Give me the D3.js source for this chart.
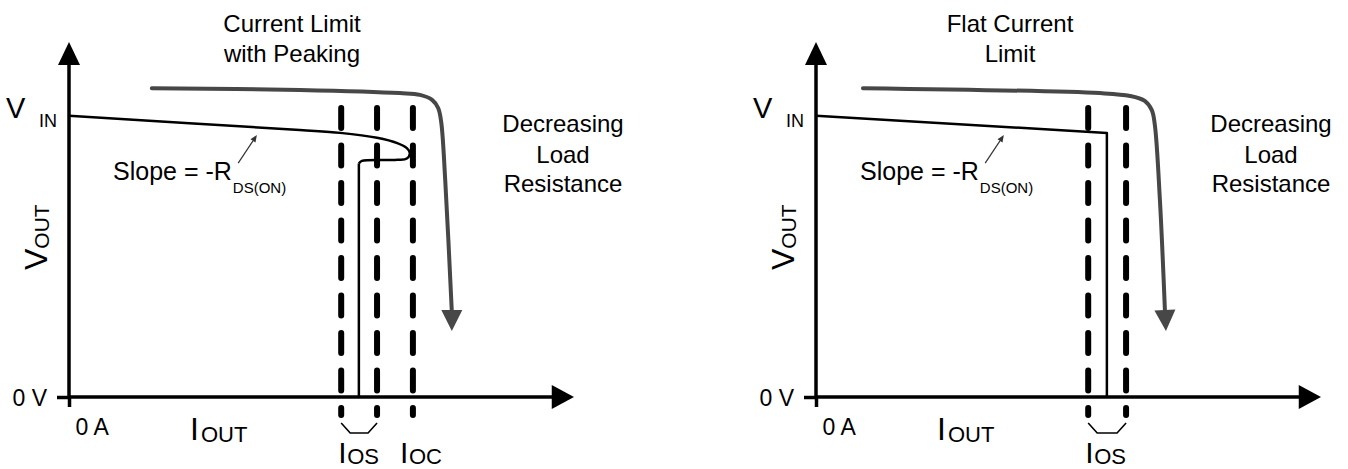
<!DOCTYPE html>
<html><head><meta charset="utf-8">
<script src="https://cdn.jsdelivr.net/npm/d3@7"></script>
<style>html,body{margin:0;padding:0;background:#fff}</style>
</head><body>
<svg id="c" width="1348" height="469"></svg>
<script>
// ---------- data (current in % of axis, voltage in % of axis) ----------
const titlesPeak = ["Current Limit", "with Peaking"];
const titlesFlat = ["Flat Current", "Limit"];
const loadLabel = ["Decreasing", "Load", "Resistance"];
const tickV = "0 V";
const tickA = "0 A";
const peakCurve = [[0,79.2],[45.7,75.2],[53.7,74.4],[61.0,73.0],[65.0,71.5],[66.9,70.1],[67.5,68.7],[66.9,67.2],[65.1,66.8],[58.0,66.5],[57.4,65.8]];
const peakDrop = [[57.4,65.8],[57.4,0]];
const flatCurve = [[0,79.2],[57.6,74.4],[57.6,0]];
const peakLimits = [53.9, 61.0, 68.1];   // IOS low, IOS high, IOC
const flatLimits = [53.9, 61.4];         // IOS low, IOS high
const peakLoadArrow = [[16.4,87.0],[45.7,86.5],[65.5,85.6],[69.5,85.1],[71.9,83.7],[73.1,81.4],[73.7,77.5],[74.5,61.1],[75.8,24.2]];
const peakLoadTip = [75.8,18.6];
const flatLoadArrow = [[9.3,87.0],[56.2,85.6],[62.2,84.8],[65.1,83.4],[66.5,80.8],[67.1,76.6],[68.1,55.5],[69.1,24.2]];
const flatLoadTip = [69.3,18.6];
const dashExtent = [81.4, -5.1];
const slopePointer = [[33.5,65.9],[37.2,73.8]];

const FONT = "'Liberation Sans', Arial, Helvetica, sans-serif";
const svg = d3.select("#c");
svg.append("rect").attr("width",1348).attr("height",469).attr("fill","#fff");

function drawPanel(opt){
  const g = svg.append("g");
  const x = d3.scaleLinear().domain([0,100]).range([opt.x0, opt.x0+505]);
  const y = d3.scaleLinear().domain([0,100]).range([397, 42]);
  const line = d3.line().x(d=>x(d[0])).y(d=>y(d[1]));

  // ticks via d3 axes (0 V / 0 A)
  const ya = g.append("g").attr("transform",`translate(${x(0)},0)`)
    .call(d3.axisLeft(y).tickValues([0]).tickSize(12).tickPadding(10).tickFormat(()=>tickV));
  const xa = g.append("g").attr("transform",`translate(0,${y(0)})`)
    .call(d3.axisBottom(x).tickValues([0]).tickSize(10).tickFormat(()=>tickA));
  [ya,xa].forEach(a=>{a.select(".domain").remove();
    a.selectAll(".tick line").attr("stroke","#000").attr("stroke-width",3.5);
    a.selectAll(".tick text").attr("fill","#000").style("font-family",FONT).style("font-size","23px");});
  ya.selectAll(".tick text").attr("dy","0.36em");
  xa.selectAll(".tick text").attr("text-anchor","start").attr("x",6).attr("y",38).attr("dy",0);

  // axis lines with arrowheads
  g.append("line").attr("x1",x(0)).attr("x2",x(0)).attr("y1",y(0)).attr("y2",y(94))
    .attr("stroke","#000").attr("stroke-width",3.5);
  g.append("path").attr("d",`M${x(0)},${y(100)}L${x(0)-11},${y(93.5)}L${x(0)+11},${y(93.5)}Z`).attr("fill","#000");
  g.append("line").attr("x1",x(0)).attr("x2",x(96)).attr("y1",y(0)).attr("y2",y(0))
    .attr("stroke","#000").attr("stroke-width",3.5);
  g.append("path").attr("d",`M${x(100)},${y(0)}L${x(95.6)},${y(0)-12}L${x(95.6)},${y(0)+12}Z`).attr("fill","#000");

  // dashed threshold lines
  opt.limits.forEach(v=>{
    g.append("path").attr("d",line([[v,dashExtent[0]],[v,dashExtent[1]]]))
      .attr("stroke","#000").attr("stroke-width",6).attr("stroke-linecap","round")
      .attr("stroke-dasharray","20 17.5").attr("fill","none");
  });

  // V-I curve
  opt.curves.forEach(c=>{
    g.append("path").attr("d",d3.line().x(d=>x(d[0])).y(d=>y(d[1])).curve(c.curve)(c.pts))
      .attr("stroke","#000").attr("stroke-width",2.5).attr("fill","none").attr("stroke-linejoin","round");
  });

  // load arrow
  g.append("path").attr("d",d3.line().x(d=>x(d[0])).y(d=>y(d[1])).curve(d3.curveCatmullRom.alpha(0.5))(opt.load))
    .attr("stroke","#474747").attr("stroke-width",4).attr("fill","none").attr("stroke-linecap","round");
  const tx = x(opt.tip[0]), ty = y(opt.tip[1]);
  const last = opt.load[opt.load.length-1];
  const ang = Math.atan2(ty - y(last[1]), tx - x(last[0]));
  const L=21, Wd=10.5;
  const bx = tx - L*Math.cos(ang), by = ty - L*Math.sin(ang);
  g.append("path").attr("d",`M${tx},${ty}L${bx - Wd*Math.sin(ang)},${by + Wd*Math.cos(ang)}L${bx + Wd*Math.sin(ang)},${by - Wd*Math.cos(ang)}Z`)
    .attr("fill","#474747");

  // slope pointer
  const p0=[x(slopePointer[0][0]),y(slopePointer[0][1])], p1=[x(slopePointer[1][0]),y(slopePointer[1][1])];
  const a2 = Math.atan2(p1[1]-p0[1], p1[0]-p0[0]);
  const hb=[p1[0]-7*Math.cos(a2), p1[1]-7*Math.sin(a2)];
  g.append("line").attr("x1",p0[0]).attr("y1",p0[1]).attr("x2",hb[0]).attr("y2",hb[1]).attr("stroke","#333").attr("stroke-width",1.2);
  g.append("path").attr("d",`M${p1[0]},${p1[1]}L${hb[0]-3*Math.sin(a2)},${hb[1]+3*Math.cos(a2)}L${hb[0]+3*Math.sin(a2)},${hb[1]-3*Math.cos(a2)}Z`).attr("fill","#333");

  // IOS bracket
  const d1=x(opt.limits[0]), d2=x(opt.limits[1]);
  g.append("path").attr("d",`M${d1},423L${d1+9},433L${d2-9},433L${d2},423`)
    .attr("stroke","#000").attr("stroke-width",1.6).attr("fill","none");

  const T = (xx,yy,s,size,anchor)=>g.append("text").attr("x",xx).attr("y",yy).text(s)
      .style("font-family",FONT).style("font-size",size+"px").attr("fill","#000").attr("text-anchor",anchor||"start");

  // titles
  opt.title.forEach((t,i)=>T(opt.titleX, 32+30*i, t, 24, "middle"));
  loadLabel.forEach((t,i)=>T(opt.loadX, [132,163,192][i], t, 24, "middle"));

  // V_IN
  T(x(0)-63, 118, "V", 29);
  T(x(0)-30, 127, "IN", 18);
  // V_OUT rotated
  const vo = g.append("text").attr("transform",`translate(${x(0)-22},${y(0)-127}) rotate(-90)`)
    .style("font-family",FONT).attr("fill","#000");
  vo.append("tspan").text("V").style("font-size","32px");
  vo.append("tspan").text("OUT").style("font-size","21px").attr("dy",2);
  // I_OUT
  T(x(0)+121, 440, "I", 32);
  T(x(0)+132, 442, "OUT", 22);
  // I_OS
  T(d1-3, 463, "I", 30);
  T(d1+6, 464, "OS", 22);
  if(opt.limits.length>2){
    const d3x = x(opt.limits[2]);
    T(d3x-13, 463, "I", 30);
    T(d3x-4, 464, "OC", 22);
  }
  // slope text
  const st = T(x(0)+44, 180, "Slope = -R", 25);
  const sw = st.node().getComputedTextLength();
  T(x(0)+44+sw+1, 193, "DS(ON)", 15);
}

drawPanel({x0:69, title:titlesPeak, titleX:292, loadX:563, limits:peakLimits,
  curves:[{pts:peakCurve, curve:d3.curveCatmullRom.alpha(0.5)},{pts:peakDrop, curve:d3.curveLinear}],
  load:peakLoadArrow, tip:peakLoadTip});
drawPanel({x0:816, title:titlesFlat, titleX:1010, loadX:1271, limits:flatLimits,
  curves:[{pts:flatCurve, curve:d3.curveLinear}],
  load:flatLoadArrow, tip:flatLoadTip});
</script>
</body></html>
